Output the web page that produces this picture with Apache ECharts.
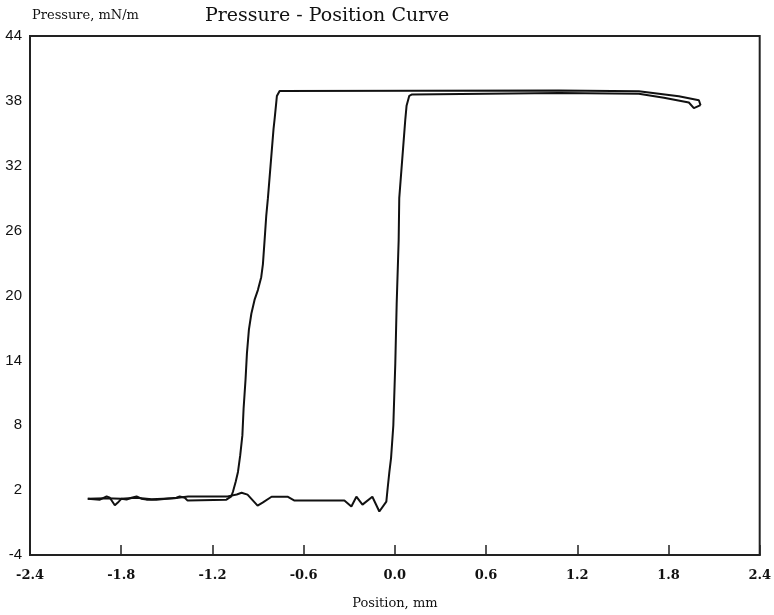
<!DOCTYPE html>
<html>
<head>
<meta charset="utf-8">
<script src="https://cdn.jsdelivr.net/npm/echarts@6/dist/echarts.min.js"></script>
<style>html,body{margin:0;padding:0;background:#fff}#c{width:774px;height:615px}</style>
</head>
<body>
<div id="c"></div>
<script>
var xTicks = [-2.4, -1.8, -1.2, -0.6, 0.0, 0.6, 1.2, 1.8, 2.4];
var yTicks = [-4, 2, 8, 14, 20, 26, 32, 38, 44];

// compression branch (left to right)
var compressionX = [-2.02, -1.94, -1.896, -1.875, -1.842, -1.822, -1.798, -1.765, -1.732, -1.699, -1.667, -1.634, -1.568, -1.437, -1.415, -1.382, -1.363, -1.108, -1.076, -1.065, -1.047, -1.032, -1.017, -1.003, -0.995, -0.982, -0.973, -0.960, -0.944, -0.923, -0.901, -0.879, -0.868, -0.857, -0.846, -0.835, -0.798, -0.791, -0.780, -0.776, -0.758, 1.080, 1.605, 1.868, 2.0, 2.011];
var compressionY = [1.21, 1.12, 1.42, 1.30, 0.60, 0.85, 1.21, 1.12, 1.30, 1.42, 1.21, 1.12, 1.12, 1.30, 1.42, 1.30, 1.03, 1.12, 1.42, 1.85, 2.77, 3.68, 5.23, 7.06, 9.53, 12.27, 14.65, 16.85, 18.31, 19.59, 20.50, 21.69, 22.88, 25.07, 27.35, 29.00, 35.41, 36.32, 37.87, 38.45, 38.91, 38.95, 38.88, 38.42, 38.06, 37.60];

// expansion branch (right to left)
var expansionX = [2.011, 1.967, 1.934, 1.770, 1.605, 1.080, 0.113, 0.095, 0.077, 0.069, 0.064, 0.029, 0.025, 0.012, 0.003, -0.010, -0.025, -0.036, -0.047, -0.056, -0.102, -0.148, -0.213, -0.253, -0.286, -0.332, -0.660, -0.706, -0.811, -0.870, -0.903, -0.969, -1.008, -1.040, -1.100, -1.360, -1.400, -1.450, -1.600, -1.700, -1.800, -1.900, -2.020];
var expansionY = [37.60, 37.33, 37.85, 38.29, 38.66, 38.72, 38.60, 38.47, 37.54, 36.32, 35.41, 29.00, 25.07, 19.22, 13.74, 7.98, 4.96, 3.68, 2.22, 0.94, 0.02, 1.39, 0.66, 1.39, 0.48, 1.03, 1.03, 1.39, 1.39, 0.85, 0.57, 1.58, 1.76, 1.60, 1.42, 1.42, 1.35, 1.25, 1.15, 1.30, 1.20, 1.25, 1.21];

function pairs(xs, ys) { return xs.map(function (x, i) { return [x, ys[i]]; }); }

var chart = echarts.init(document.getElementById('c'), null, {renderer: 'canvas'});
chart.setOption({
  animation: false,
  backgroundColor: '#fff',
  title: {
    text: 'Pressure - Position Curve',
    left: 200, top: 2,
    textStyle: {fontFamily: 'DejaVu Serif', fontSize: 19, fontWeight: 'normal', color: '#111'}
  },
  grid: {left: 30, right: 13, top: 36, bottom: 54, show: true, borderColor: '#222', borderWidth: 2, backgroundColor: 'transparent'},
  xAxis: {
    type: 'value', min: -2.4, max: 2.4,
    name: 'Position, mm', nameLocation: 'middle', nameGap: 42,
    nameTextStyle: {fontFamily: 'DejaVu Serif', fontSize: 13, color: '#111'},
    axisLine: {show: true, onZero: false, lineStyle: {color: '#222', width: 2}},
    axisTick: {show: true, inside: true, length: 10, customValues: xTicks, lineStyle: {color: '#222', width: 1.5}},
    axisLabel: {customValues: xTicks, margin: 14, fontFamily: 'DejaVu Serif', fontWeight: 'bold', fontSize: 13, color: '#111',
      formatter: function (v) { return v.toFixed(1); }},
    splitLine: {show: false}
  },
  yAxis: {
    type: 'value', min: -4, max: 44,
    name: 'Pressure, mN/m', nameLocation: 'end', nameGap: 14,
    nameTextStyle: {fontFamily: 'DejaVu Serif', fontSize: 13, color: '#111', align: 'left', padding: [0, 0, 0, 2]},
    axisLine: {show: true, onZero: false, lineStyle: {color: '#222', width: 2}},
    axisTick: {show: false, customValues: yTicks},
    axisLabel: {customValues: yTicks, margin: 8, fontFamily: 'Liberation Sans', fontSize: 15, color: '#111'},
    splitLine: {show: false}
  },
  series: [
    {type: 'line', data: pairs(compressionX, compressionY), showSymbol: false, symbol: 'none',
      lineStyle: {color: '#111', width: 2}},
    {type: 'line', data: pairs(expansionX, expansionY), showSymbol: false, symbol: 'none',
      lineStyle: {color: '#111', width: 2}}
  ]
});
</script>
</body>
</html>
